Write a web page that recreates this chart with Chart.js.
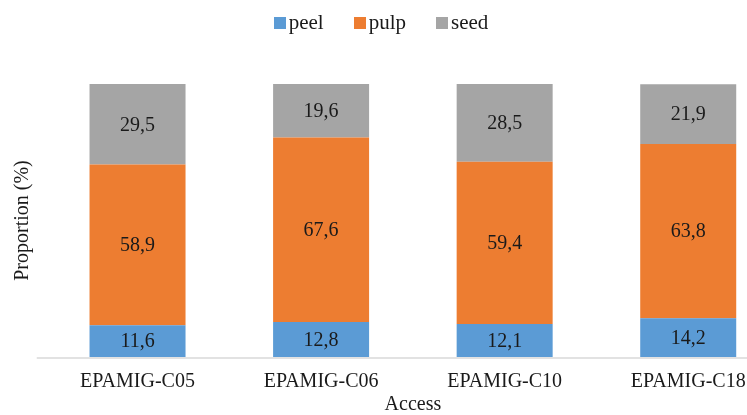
<!DOCTYPE html>
<html>
<head>
<meta charset="utf-8">
<script src="https://cdn.jsdelivr.net/npm/chart.js@4.4.1/dist/chart.umd.min.js"></script>
<style>
  html, body { margin: 0; padding: 0; background: #fff; overflow: hidden; }
  #wrap { position: absolute; left: 0; top: 0; width: 790px; height: 415px; }
  #legend { position: absolute; left: 0; top: 10px; width: 762px; display: flex; justify-content: center;
            font-family: "Liberation Serif", "Times New Roman", serif; font-size: 21px; color: #1a1a1a; }
  #legend span.item { display: flex; align-items: center; margin: 0 15px; }
  #legend span.box { width: 12px; height: 12px; margin-right: 3px; display: inline-block; }
</style>
</head>
<body>
<div id="wrap"><canvas id="chart"></canvas></div>
<div id="legend"></div>
<script>
// values (%)
var accessions = ['EPAMIG-C05', 'EPAMIG-C06', 'EPAMIG-C10', 'EPAMIG-C18'];
var peel = [11.6, 12.8, 12.1, 14.2];
var pulp = [58.9, 67.6, 59.4, 63.8];
var seed = [29.5, 19.6, 28.5, 21.9];

var serif = '"Liberation Serif", "Times New Roman", serif';
var ink = '#1a1a1a';

// writes the value in the middle of every segment, comma as decimal mark
var segmentLabels = {
  id: 'segmentLabels',
  afterDatasetsDraw: function(chart) {
    var ctx = chart.ctx;
    ctx.save();
    ctx.font = '20px ' + serif;
    ctx.fillStyle = ink;
    ctx.textAlign = 'center';
    ctx.textBaseline = 'middle';
    chart.data.datasets.forEach(function(ds, i) {
      var meta = chart.getDatasetMeta(i);
      meta.data.forEach(function(bar, j) {
        var txt = ds.data[j].toFixed(1).replace('.', ',');
        ctx.fillText(txt, bar.x, (bar.y + bar.base) / 2 + 1);
      });
    });
    ctx.restore();
  }
};

// light axis line, a bit longer than the plot area like the original
var baseLine = {
  id: 'baseLine',
  beforeDatasetsDraw: function(chart) {
    var ctx = chart.ctx;
    var y = chart.scales.y.getPixelForValue(0) + 1;
    ctx.save();
    ctx.strokeStyle = '#d9d9d9';
    ctx.lineWidth = 1.5;
    ctx.beginPath();
    ctx.moveTo(chart.chartArea.left - 9, y);
    ctx.lineTo(chart.width, y);
    ctx.stroke();
    ctx.restore();
  }
};

var chart = new Chart(document.getElementById('chart'), {
  type: 'bar',
  data: {
    labels: accessions,
    datasets: [
      { label: 'peel', data: peel, backgroundColor: '#5B9BD5' },
      { label: 'pulp', data: pulp, backgroundColor: '#ED7D31' },
      { label: 'seed', data: seed, backgroundColor: '#A5A5A5' }
    ]
  },
  options: {
    responsive: true,
    maintainAspectRatio: false,
    animation: false,
    layout: { padding: { top: 84, left: 10, right: 10, bottom: 0 } },
    datasets: { bar: { categoryPercentage: 1, barPercentage: 0.523 } },
    plugins: {
      legend: { display: false },
      tooltip: { enabled: false }
    },
    scales: {
      x: {
        stacked: true,
        grid: { display: false },
        border: { display: false },
        ticks: { font: { family: serif, size: 20 }, color: ink, padding: 5 },
        title: { display: true, text: 'Access', font: { family: serif, size: 20, lineHeight: 1 }, color: ink, padding: { top: 2, bottom: 0 } },
        afterFit: function(scale) { scale.height = 58; }
      },
      y: {
        stacked: true,
        min: 0,
        max: 100,
        grid: { display: false },
        border: { display: false },
        ticks: { display: false },
        title: { display: true, text: 'Proportion (%)', font: { family: serif, size: 20 }, color: ink, padding: { top: 1, bottom: 0 } },
        afterFit: function(scale) { scale.width = 35.75; }
      }
    }
  },
  plugins: [segmentLabels, baseLine]
});

// html legend built from the datasets
var legendEl = document.getElementById('legend');
chart.data.datasets.forEach(function(ds) {
  var item = document.createElement('span');
  item.className = 'item';
  item.innerHTML = '<span class="box" style="background:' + ds.backgroundColor + '"></span>' + ds.label;
  legendEl.appendChild(item);
});
</script>
</body>
</html>
